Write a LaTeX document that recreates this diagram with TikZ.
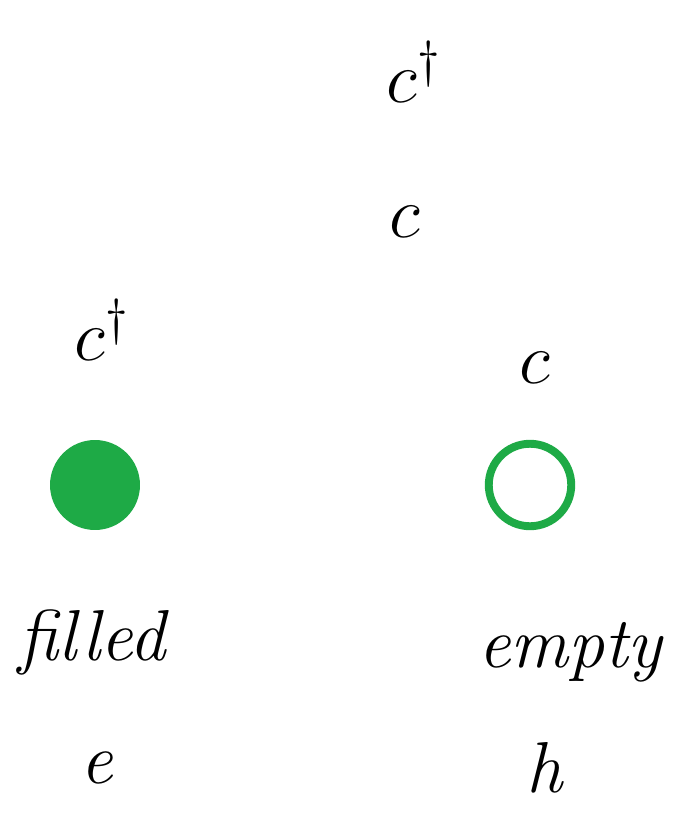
\documentclass[tikz,border=0pt]{standalone}
\usepackage{amsmath,amssymb}
\usepackage{graphicx}
\usepackage{tikz}
\usetikzlibrary{positioning}
\usepackage{xcolor}
\definecolor{markergreen}{RGB}{30,170,70}
\newcommand{\opglyph}[1]{\scalebox{2.4}{$#1$}}
\newcommand{\wordglyph}[1]{\scalebox{1.65}{#1}}

\begin{document}
\begin{tikzpicture}[
    x=0.02cm, y=-0.02cm,
    op/.style={font=\LARGE, inner sep=0pt},
    word/.style={font=\Huge\itshape, inner sep=0pt},
    filledstate/.style={circle, fill=markergreen, minimum size=1.8cm, inner sep=0pt},
    emptystate/.style={circle, draw=markergreen, line width=4.5pt, minimum size=1.65cm, inner sep=0pt}
]
\useasboundingbox (0,0) rectangle (678,814);

% Operators on the right
\node[op] (cdagtop) at (414,72) {\opglyph{c^\dagger}};
\node[op] (cmid) at (405,222) {\opglyph{c}};

% Operators on the left and right above the states
\node[op] (cdagleft) at (102,330) {\opglyph{c^\dagger}};
\node[op] (cright) at (535,368) {\opglyph{c}};

% States
\node[filledstate] (fill) at (95,485) {};
\node[emptystate] (empty) at (530,485) {};

% Labels
\node[word] (filledlbl) at (92,642) {\wordglyph{filled}};
\node[word] (emptylbl) at (570,652) {\wordglyph{empty}};
\node[word] (elbl) at (97,768) {\wordglyph{e}};
\node[word] (hlbl) at (545,768) {\wordglyph{h}};

\end{tikzpicture}
\end{document}
